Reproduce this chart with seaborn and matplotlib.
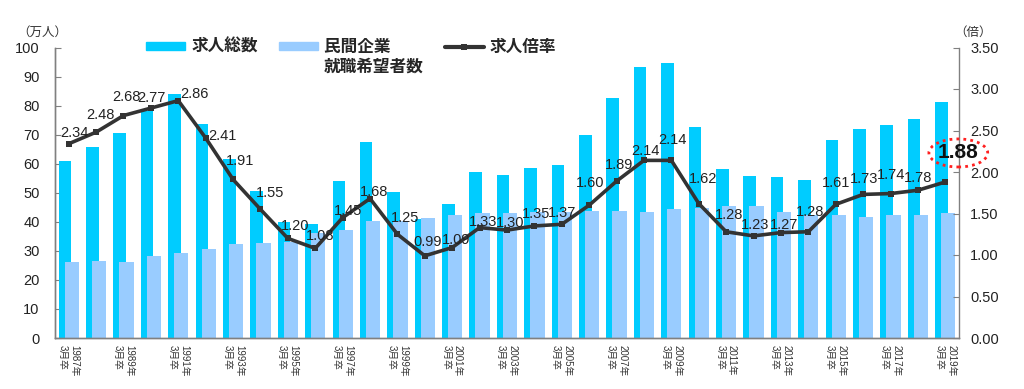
import numpy as np
import pandas as pd
import matplotlib
matplotlib.use('Agg')
import matplotlib.pyplot as plt
from matplotlib.patches import Patch
from matplotlib.lines import Line2D
import seaborn as sns

# 大卒求人倍率（3月卒）
years = list(range(1987, 2020))
job_openings = [60.8, 65.6, 70.4, 78.0, 84.0, 73.8, 61.7, 50.7, 40.0, 39.1, 54.1,
                67.5, 50.2, 40.8, 46.1, 57.3, 56.0, 58.4, 59.6, 69.8, 82.5, 93.3,
                94.8, 72.5, 58.2, 55.9, 55.4, 54.4, 68.3, 71.9, 73.4, 75.5, 81.4]
job_seekers = [26.0, 26.5, 26.2, 28.2, 29.3, 30.6, 32.3, 32.6, 33.2, 36.2, 37.3,
               40.3, 40.3, 41.2, 42.3, 43.0, 42.9, 43.3, 43.5, 43.6, 43.7, 43.4,
               44.3, 44.7, 45.6, 45.5, 43.4, 42.3, 42.3, 41.6, 42.2, 42.3, 43.2]
ratio = [2.34, 2.48, 2.68, 2.77, 2.86, 2.41, 1.91, 1.55, 1.20, 1.08, 1.45,
         1.68, 1.25, 0.99, 1.09, 1.33, 1.30, 1.35, 1.37, 1.60, 1.89, 2.14,
         2.14, 1.62, 1.28, 1.23, 1.27, 1.28, 1.61, 1.73, 1.74, 1.78, 1.88]
tick_labels = [f'{y}年\n3月卒' for y in years]

# label offsets in pixels (dx, dy) from each point
label_offsets = [(6, 11), (4, 17), (3, 19), (1, 10), (16, 7), (17, 2), (7, 18),
                 (10, 16), (7, 12), (5, 12), (5, 7), (4, 7), (8, 16), (3, 14),
                 (4, 8), (3, 6), (3, 7), (2, 12), (0, 11), (1, 22), (2, 16),
                 (1, 9), (1, 20), (4, 25), (3, 17), (2, 11), (3, 8), (2, 20),
                 (0, 21), (1, 15), (1, 19), (0, 12), (13, 29)]

CYAN = '#00CCFF'
LIGHT = '#99CCFF'
LINE = '#333333'
AXIS = '#808080'

sns.set_style('white')
plt.rcParams['font.family'] = ['Liberation Sans', 'Noto Sans CJK JP', 'DejaVu Sans']

df = pd.DataFrame({'pos': np.arange(len(years)), 'openings': job_openings,
                   'seekers': job_seekers, 'ratio': ratio})

W, H = 1024, 389
fig = plt.figure(figsize=(W / 100, H / 100), dpi=100)
ax = fig.add_axes([55 / W, 1 - 338 / H, 904 / W, 290.5 / H])

sns.barplot(x=df['pos'] - 0.14, y=df['openings'], native_scale=True, width=0.46,
            color=CYAN, saturation=1, linewidth=0, errorbar=None, ax=ax)
sns.barplot(x=df['pos'] + 0.11, y=df['seekers'], native_scale=True, width=0.52,
            color=LIGHT, saturation=1, linewidth=0, errorbar=None, ax=ax)

ax.set_xlim(-0.5, len(years) - 0.5)
ax.set_ylim(0, 100)
ax.set_yticks(range(0, 101, 10))
ax.set_xticks(df['pos'][::2])
ax.set_xticklabels(tick_labels[::2], rotation=270, fontsize=7, ha='center',
                   va='top', multialignment='left', color='#333333')
ax.set_xticks(df['pos'][:-1] + 0.5, minor=True)
ax.tick_params(axis='x', which='major', length=0, pad=5)
ax.tick_params(axis='x', which='minor', length=3, direction='in', color=AXIS, width=1)
ax.tick_params(axis='y', length=4, direction='in', color=AXIS, labelsize=10.5, pad=11,
               labelcolor='#222222')
ax.set_xlabel('')
ax.set_ylabel('')

ax2 = ax.twinx()
sns.lineplot(x=df['pos'], y=df['ratio'], ax=ax2, color=LINE, lw=2.6, marker='s',
             markersize=4.5, markeredgewidth=0)
ax2.set_ylim(0, 3.5)
ax2.set_yticks(np.arange(0, 3.51, 0.5))
ax2.set_yticklabels([f'{v:.2f}' for v in np.arange(0, 3.51, 0.5)])
ax2.tick_params(axis='y', length=4, direction='in', color=AXIS, labelsize=10.5, pad=8,
                labelcolor='#222222')
ax2.set_ylabel('')
ax2.set_xlabel('')

for a in (ax, ax2):
    a.spines['top'].set_visible(False)
    for s in ('left', 'right', 'bottom'):
        a.spines[s].set_color(AXIS)
        a.spines[s].set_linewidth(1)
ax.spines['right'].set_visible(False)

for i, (x, r) in enumerate(zip(df['pos'], df['ratio'])):
    dx, dy = label_offsets[i]
    if i == len(years) - 1:
        ax2.annotate(f'{r:.2f}', xy=(x, r), xytext=(dx, dy), textcoords='offset pixels',
                     ha='center', va='center', fontsize=15, fontweight='bold', color='#111111',
                     bbox=dict(boxstyle='ellipse,pad=0.02', fc='none', ec='#FF2020',
                               ls=(0, (1, 1.5)), lw=2))
    else:
        ax2.annotate(f'{r:.2f}', xy=(x, r), xytext=(dx, dy), textcoords='offset pixels',
                     ha='center', va='center', fontsize=10.5, color='#222222')

handles = [Patch(color=CYAN), Patch(color=LIGHT),
           Line2D([], [], color=LINE, lw=3, marker='s', markersize=4.5, markeredgewidth=0)]
labels = ['求人総数', '民間企業\u3000\u3000', '求人倍率']
leg = fig.legend(handles, labels, loc='center left', bbox_to_anchor=(146 / W, 1 - 47 / H),
                 ncol=3, frameon=False, borderpad=0, borderaxespad=0,
                 handlelength=2.35, handleheight=0.42, handletextpad=0.36,
                 columnspacing=1.26, prop={'size': 12, 'weight': 'bold'})

fig.text(42 / W, 1 - 33 / H, '（万人）', ha='center', va='center', fontsize=9, color='#333333')
fig.text(973 / W, 1 - 33 / H, '（倍）', ha='center', va='center', fontsize=9, color='#333333')

fig.canvas.draw()
bb = leg.get_texts()[1].get_window_extent()
fig.text(bb.x0 / W, (bb.y0 - 4) / H, '就職希望者数', ha='left', va='top',
         fontsize=12, fontweight='bold')

fig.savefig('out.png', dpi=100)
